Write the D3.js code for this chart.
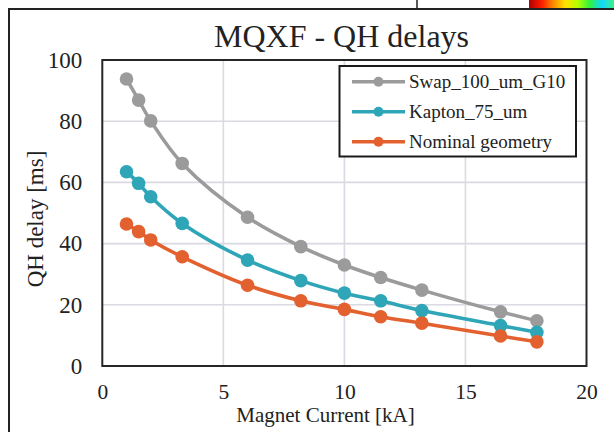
<!DOCTYPE html>
<meta charset="utf-8">

<!-- load d3.js -->
<script src="https://d3js.org/d3.v7.min.js"></script>

<style>
  body { margin: 0; background: #fff; }
</style>

<div id="qh"></div>

<script>
  // data
  var current = [1, 1.5, 2, 3.3, 6, 8.2, 10, 11.5, 13.2, 16.45, 17.95];
  var swapG10 = [93.8, 86.9, 80.1, 66.2, 48.6, 39.0, 33.0, 28.9, 24.8, 17.7, 14.8];
  var kapton75 = [63.5, 59.7, 55.3, 46.6, 34.6, 27.9, 23.8, 21.3, 18.1, 13.2, 11.0];
  var nominal = [46.4, 43.9, 41.2, 35.7, 26.4, 21.3, 18.5, 16.1, 14.0, 9.8, 7.9];
  var seriesNames = ["Swap_100_um_G10", "Kapton_75_um", "Nominal geometry"];
  var xTicks = [0, 5, 10, 15, 20];
  var yTicks = [0, 20, 40, 60, 80, 100];

  var FONT = "'Liberation Serif', 'Times New Roman', serif";
  var colors = ["#9b9b9b", "#2fa6b7", "#e3602f"];
  var series = [swapG10, kapton75, nominal].map(function(vals, i) {
    return {name: seriesNames[i], color: colors[i],
            pts: vals.map(function(v, j) { return {x: current[j], y: v}; })};
  });

  var W = 614, H = 432;
  var svg = d3.select("#qh").append("svg")
      .attr("width", W).attr("height", H);

  // bits of neighbouring figures at the top edge
  var grad = svg.append("defs").append("linearGradient").attr("id", "rb");
  ["#b00000", "#ff1a00", "#ff8a00", "#ffe400", "#b8ff00", "#30f040", "#10d8ff", "#40f080"]
    .forEach(function(c, i, a) {
      grad.append("stop").attr("offset", i / (a.length - 1)).attr("stop-color", c);
    });
  svg.append("rect").attr("x", 529).attr("y", 0).attr("width", 85).attr("height", 8)
    .attr("fill", "url(#rb)");
  svg.append("line").attr("x1", 417).attr("x2", 417).attr("y1", 0).attr("y2", 9)
    .attr("stroke", "#222").attr("stroke-width", 1.5);

  // outer frame
  svg.append("path").attr("d", "M9,432V9H614")
    .attr("fill", "none").attr("stroke", "#222").attr("stroke-width", 2);

  var x = d3.scaleLinear().domain([0, 20]).range([102.3, 586.5]);
  var y = d3.scaleLinear().domain([0, 100]).range([366, 60]);

  // gridlines
  svg.append("g").selectAll("line").data(xTicks.slice(1, -1)).enter().append("line")
    .attr("x1", x).attr("x2", x).attr("y1", y(0)).attr("y2", y(100))
    .attr("stroke", "#dadae2").attr("stroke-width", 1.6);
  svg.append("g").selectAll("line").data(yTicks.slice(1, -1)).enter().append("line")
    .attr("y1", y).attr("y2", y).attr("x1", x(0)).attr("x2", x(20))
    .attr("stroke", "#dadae2").attr("stroke-width", 1.6);

  // tick labels via d3 axes, no domain or tick lines
  var xAxis = svg.append("g").attr("transform", "translate(0," + y(0) + ")")
    .call(d3.axisBottom(x).tickValues(xTicks).tickSize(0).tickPadding(18));
  var yAxis = svg.append("g").attr("transform", "translate(" + x(0) + ",0)")
    .call(d3.axisLeft(y).tickValues(yTicks).tickSize(0).tickPadding(20));
  [xAxis, yAxis].forEach(function(a) {
    a.attr("font-family", null).attr("font-size", null);
    a.select(".domain").remove();
    a.selectAll("text").style("font-family", FONT).attr("fill", "#222");
  });
  xAxis.selectAll("text").style("font-size", "21.5px");
  yAxis.selectAll("text").style("font-size", "23px");

  // series
  var line = d3.line()
    .x(function(d) { return x(d.x); })
    .y(function(d) { return y(d.y); })
    .curve(d3.curveCatmullRom);

  series.forEach(function(s) {
    svg.append("path").datum(s.pts)
      .attr("d", line).attr("fill", "none")
      .attr("stroke", s.color).attr("stroke-width", 3.6);
    svg.append("g").selectAll("circle").data(s.pts).enter().append("circle")
      .attr("cx", function(d) { return x(d.x); })
      .attr("cy", function(d) { return y(d.y); })
      .attr("r", 6.8).attr("fill", s.color);
  });

  // plot border
  svg.append("rect").attr("x", x(0)).attr("y", y(100))
    .attr("width", x(20) - x(0)).attr("height", y(0) - y(100))
    .attr("fill", "none").attr("stroke", "#262626").attr("stroke-width", 2);

  // title and axis titles
  function label(t, size) {
    return t.style("font-family", FONT).style("font-size", size).attr("fill", "#222");
  }
  label(svg.append("text").attr("x", 341.5).attr("y", 47).attr("text-anchor", "middle"), "32px")
    .text("MQXF - QH delays");
  label(svg.append("text").attr("x", 325.5).attr("y", 422).attr("text-anchor", "middle"), "21px")
    .text("Magnet Current [kA]");
  label(svg.append("text").attr("transform", "translate(43,219) rotate(-90)")
    .attr("text-anchor", "middle"), "23px")
    .text("QH delay [ms]");

  // legend
  var lg = svg.append("g");
  lg.append("rect").attr("x", 339.5).attr("y", 66).attr("width", 236.5).attr("height", 90.5)
    .attr("fill", "#fff").attr("stroke", "#1a1a1a").attr("stroke-width", 2);
  series.forEach(function(s, i) {
    var ry = 81.7 + i * 30;
    lg.append("line").attr("x1", 352).attr("x2", 405).attr("y1", ry).attr("y2", ry)
      .attr("stroke", s.color).attr("stroke-width", 3.6);
    lg.append("circle").attr("cx", 378.5).attr("cy", ry).attr("r", 5).attr("fill", s.color);
    label(lg.append("text").attr("x", 409).attr("y", ry).attr("dy", "0.33em"), "19px")
      .text(s.name);
  });
</script>
